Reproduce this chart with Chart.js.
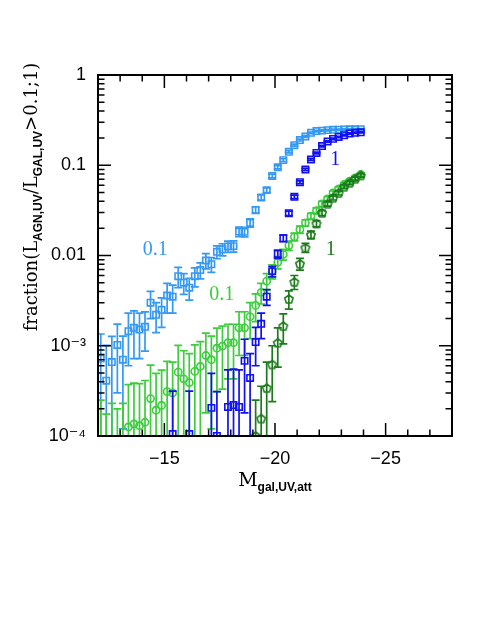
<!DOCTYPE html>
<html>
<head>
<meta charset="utf-8">
<script src="https://cdn.jsdelivr.net/npm/chart.js@4.4.0/dist/chart.umd.min.js"></script>
<style>
  html, body { margin: 0; padding: 0; background: #fff; }
  canvas { display: block; }
</style>
</head>
<body>
<canvas id="fracChart" width="485" height="627"></canvas>
<script>
// magnitude bin centres (0.25 mag bins)
const mags = [
  -12.125, -12.375, -12.625, -12.875,
  -13.125, -13.375, -13.625, -13.875,
  -14.125, -14.375, -14.625, -14.875,
  -15.125, -15.375, -15.625, -15.875,
  -16.125, -16.375, -16.625, -16.875,
  -17.125, -17.375, -17.625, -17.875,
  -18.125, -18.375, -18.625, -18.875,
  -19.125, -19.375, -19.625, -19.875,
  -20.125, -20.375, -20.625, -20.875,
  -21.125, -21.375, -21.625, -21.875,
  -22.125, -22.375, -22.625, -22.875,
  -23.125, -23.375, -23.625, -23.875
];

// fraction with L_AGN/L_GAL > 0.1 (light blue) and > 1 (dark blue)
const lightBlueFrac = [
  7.2e-4, 4.1e-4, 6.6e-4, 1.02e-3,
  7.0e-4, 1.45e-3, 1.58e-3, 1.51e-3,
  1.62e-3, 3.0e-3, 2.2e-3, 2.5e-3,
  3.6e-3, 3.5e-3, 5.9e-3, 5.0e-3,
  4.4e-3, 5.9e-3, 6.9e-3, 8.8e-3,
  8.0e-3, 0.011, 0.0117, 0.0126,
  0.0127, 0.0184, 0.0183, 0.023,
  0.032, 0.044, 0.053, 0.076,
  0.095, 0.114, 0.141, 0.167,
  0.19, 0.208, 0.229, 0.239,
  0.242, 0.245, 0.247, 0.248,
  0.249, 0.25, 0.25, 0.251
];
const lightBlueErr = [
  6.3e-4, 6.0e-4, 6.1e-4, 7.2e-4,
  5.8e-4, 8.5e-4, 8.6e-4, 7.9e-4,
  7.5e-4, 1.0e-3, 8.0e-4, 9.0e-4,
  1.3e-3, 1.2e-3, 1.5e-3, 1.3e-3,
  1.2e-3, 1.4e-3, 1.4e-3, 1.7e-3,
  1.5e-3, 1.8e-3, 1.8e-3, 1.8e-3,
  1.8e-3, 2.2e-3, 2.2e-3, 2.4e-3,
  2.7e-3, 3.0e-3, 3.2e-3, 3.6e-3,
  3.8e-3, 4.0e-3, 4.2e-3, 4.4e-3,
  4.4e-3, 4.4e-3, 4.4e-3, 4.3e-3,
  4.2e-3, 4.2e-3, 4.2e-3, 4.2e-3,
  4.2e-3, 4.2e-3, 4.2e-3, 4.2e-3
];
const darkBlueFrac = [
  null, null, null, null,
  null, null, null, null,
  null, null, null, null,
  null, 1.05e-4, null, null,
  1.05e-4, null, null, null,
  2.05e-4, 1.0e-4, null, 2.1e-4,
  2.2e-4, 2.1e-4, 6.8e-4, 4.4e-4,
  1.1e-3, 1.75e-3, 3.5e-3, 6.7e-3,
  0.0104, 0.0155, 0.0294, 0.0447,
  0.0649, 0.0897, 0.116, 0.137,
  0.163, 0.183, 0.196, 0.206,
  0.215, 0.225, 0.229, 0.232
];
const darkBlueErr = [
  null, null, null, null,
  null, null, null, null,
  null, null, null, null,
  null, 2.1e-4, null, null,
  2.1e-4, null, null, null,
  2.9e-4, 2.1e-4, null, 3.3e-4,
  3.3e-4, 3.3e-4, 5.0e-4, 3.8e-4,
  5.0e-4, 5.5e-4, 7.0e-4, 9.0e-4,
  1.1e-3, 1.3e-3, 1.7e-3, 2.0e-3,
  2.3e-3, 2.6e-3, 2.9e-3, 3.1e-3,
  3.3e-3, 3.4e-3, 3.4e-3, 3.4e-3,
  3.4e-3, 3.4e-3, 3.4e-3, 3.4e-3
];

// same thresholds, second galaxy sample (light green 0.1, dark green 1)
const lightGreenFrac = [
  5e-5, 3e-5, 5e-5, 4e-5,
  5e-5, 1.26e-4, 1.36e-4, 1.3e-4,
  1.42e-4, 2.6e-4, 1.93e-4, 2.18e-4,
  3.1e-4, 3.0e-4, 5.1e-4, 4.3e-4,
  3.9e-4, 5.2e-4, 5.9e-4, 7.8e-4,
  7.0e-4, 9.4e-4, 9.9e-4, 1.08e-3,
  1.08e-3, 1.58e-3, 1.58e-3, 2.1e-3,
  2.8e-3, 3.9e-3, 5.2e-3, 6.7e-3,
  8.4e-3, 0.0103, 0.0129, 0.0161,
  0.0194, 0.023, 0.0273, 0.0315,
  0.0374, 0.0425, 0.0494, 0.0548,
  0.0612, 0.0666, 0.0725, 0.079
];
const lightGreenErr = [
  2.0e-4, 1.45e-4, 1.8e-4, 1.6e-4,
  1.8e-4, 2.45e-4, 2.5e-4, 2.5e-4,
  2.7e-4, 3.5e-4, 3.0e-4, 3.2e-4,
  3.6e-4, 3.6e-4, 5.0e-4, 4.5e-4,
  4.3e-4, 5.0e-4, 5.2e-4, 6.0e-4,
  5.8e-4, 6.3e-4, 6.6e-4, 6.5e-4,
  6.5e-4, 8.0e-4, 8.0e-4, 9.0e-4,
  9.5e-4, 1.0e-3, 1.1e-3, 1.2e-3,
  1.3e-3, 1.4e-3, 1.5e-3, 1.6e-3,
  1.8e-3, 1.9e-3, 2.0e-3, 2.2e-3,
  2.4e-3, 2.5e-3, 2.7e-3, 2.8e-3,
  3.0e-3, 3.1e-3, 3.2e-3, 3.4e-3
];
const darkGreenFrac = [
  null, null, null, null,
  null, null, null, null,
  null, null, null, null,
  null, null, null, null,
  null, null, null, null,
  null, null, null, null,
  null, null, null, null,
  1.0e-4, 1.56e-4, 3.4e-4, 6.2e-4,
  1.08e-3, 1.65e-3, 3.3e-3, 5.1e-3,
  8.1e-3, 0.0122, 0.017, 0.0226,
  0.0297, 0.0374, 0.0436, 0.0494,
  0.0577, 0.0638, 0.0708, 0.077
];
const darkGreenErr = [
  null, null, null, null,
  null, null, null, null,
  null, null, null, null,
  null, null, null, null,
  null, null, null, null,
  null, null, null, null,
  null, null, null, null,
  1.5e-4, 2.0e-4, 3.2e-4, 3.8e-4,
  5.0e-4, 6.0e-4, 7.5e-4, 9.0e-4,
  1.2e-3, 1.4e-3, 1.6e-3, 1.8e-3,
  2.0e-3, 2.2e-3, 2.4e-3, 2.6e-3,
  2.8e-3, 3.0e-3, 3.1e-3, 3.3e-3
];

// axes
const xTickValues = [-15, -20, -25];
const xTickLabels = ['\u221215', '\u221220', '\u221225'];
const yTickValues = [1e-4, 1e-3, 0.01, 0.1, 1];
const yTickLabels = ['10\u207B\u2074', '10\u207B\u00B3', '0.01', '0.1', '1'];

const colLightBlue = '#3499f5';
const colDarkBlue = '#1010f2';
const colLightGreen = '#3ccc3c';
const colDarkGreen = '#1b7b1b';

function pentagon(color) {
  const c = document.createElement('canvas');
  c.width = 12; c.height = 12;
  const g = c.getContext('2d');
  g.strokeStyle = color;
  g.lineWidth = 1.6;
  g.beginPath();
  for (let k = 0; k < 5; k++) {
    const a = -Math.PI / 2 + k * 2 * Math.PI / 5;
    const px = 6 + 4.4 * Math.cos(a), py = 6.4 + 4.4 * Math.sin(a);
    if (k === 0) g.moveTo(px, py); else g.lineTo(px, py);
  }
  g.closePath();
  g.stroke();
  return c;
}

const toPoints = arr => mags.map((m, i) => ({ x: m, y: arr[i] }));

// error bars, drawn just before each dataset's own markers
const errorBars = {
  id: 'errorBars',
  beforeDatasetDraw(chart, args) {
    const ds = chart.data.datasets[args.index];
    if (!ds.errors) return;
    const { ctx, chartArea: a, scales: { x, y } } = chart;
    ctx.save();
    ctx.beginPath();
    ctx.rect(a.left, a.top, a.right - a.left, a.bottom - a.top);
    ctx.clip();
    ctx.strokeStyle = ds.borderColor;
    ctx.lineWidth = 1.7;
    ds.data.forEach((p, i) => {
      const e = ds.errors[i];
      if (p.y == null || e == null) return;
      const px = x.getPixelForValue(p.x);
      const hi = y.getPixelForValue(p.y + e);
      const low = p.y - e;
      const lo = low > 0 ? y.getPixelForValue(low) : a.bottom + 5;
      ctx.beginPath();
      ctx.moveTo(px, lo);
      ctx.lineTo(px, hi);
      ctx.moveTo(px - 4, hi);
      ctx.lineTo(px + 4, hi);
      if (low > 0) {
        ctx.moveTo(px - 4, lo);
        ctx.lineTo(px + 4, lo);
      }
      ctx.stroke();
    });
    ctx.restore();
  }
};

// box with inward ticks on all four sides
const frame = {
  id: 'frame',
  afterDatasetsDraw(chart) {
    const { ctx, chartArea: a, scales: { x, y } } = chart;
    ctx.save();
    ctx.strokeStyle = '#000';
    ctx.lineWidth = 1.5;
    ctx.beginPath();
    for (let m = -13; m >= -27; m--) {
      const px = x.getPixelForValue(m);
      const len = m % 5 === 0 ? 13 : 6.5;
      ctx.moveTo(px, a.bottom); ctx.lineTo(px, a.bottom - len);
      ctx.moveTo(px, a.top); ctx.lineTo(px, a.top + len);
    }
    yTickValues.forEach((d, j) => {
      const py = y.getPixelForValue(d);
      ctx.moveTo(a.left, py); ctx.lineTo(a.left + 13, py);
      ctx.moveTo(a.right, py); ctx.lineTo(a.right - 13, py);
      if (j === yTickValues.length - 1) return;
      for (let k = 2; k <= 9; k++) {
        const pm = y.getPixelForValue(k * d);
        ctx.moveTo(a.left, pm); ctx.lineTo(a.left + 6.5, pm);
        ctx.moveTo(a.right, pm); ctx.lineTo(a.right - 6.5, pm);
      }
    });
    ctx.stroke();
    ctx.lineWidth = 2;
    ctx.strokeRect(a.left, a.top, a.right - a.left, a.bottom - a.top);
    ctx.restore();
  }
};

function drawParts(ctx, parts, cx, baseY) {
  let total = 0;
  parts.forEach(p => { ctx.font = p.font; p.w = ctx.measureText(p.t).width; total += p.w; });
  let xx = cx - total / 2;
  parts.forEach(p => {
    ctx.font = p.font;
    ctx.fillText(p.t, xx, baseY + p.dy);
    xx += p.w;
  });
}

// axis titles and curve labels
const labels = {
  id: 'labels',
  afterDraw(chart) {
    const { ctx, scales: { x, y } } = chart;
    const subFont = 'bold 12px "Liberation Sans"';
    ctx.save();
    ctx.fillStyle = '#000';
    ctx.textAlign = 'left';
    ctx.textBaseline = 'alphabetic';

    drawParts(ctx, [
      { t: 'M', font: '19px "DejaVu Serif"', dy: 0 },
      { t: 'gal,UV,att', font: subFont, dy: 5 }
    ], (chart.chartArea.left + chart.chartArea.right) / 2, 486);

    ctx.save();
    ctx.translate(30, 197);
    ctx.rotate(-Math.PI / 2);
    const mainFont = '18px "DejaVu Serif"';
    drawParts(ctx, [
      { t: 'fraction(L', font: mainFont, dy: 0 },
      { t: 'AGN,UV', font: subFont, dy: 5 },
      { t: '/L', font: mainFont, dy: 0 },
      { t: 'GAL,UV', font: subFont, dy: 5 },
      { t: '>0.1;1)', font: mainFont, dy: 0 }
    ], 0, 7);
    ctx.restore();

    ctx.font = '20px "Liberation Serif"';
    ctx.textAlign = 'center';
    ctx.textBaseline = 'middle';
    [
      { t: '0.1', m: -14.59, f: 0.0115, c: colLightBlue },
      { t: '1', m: -22.72, f: 0.116, c: colDarkBlue },
      { t: '0.1', m: -17.59, f: 3.7e-3, c: colLightGreen },
      { t: '1', m: -22.52, f: 0.0115, c: colDarkGreen }
    ].forEach(l => {
      ctx.fillStyle = l.c;
      ctx.fillText(l.t, x.getPixelForValue(l.m), y.getPixelForValue(l.f));
    });
    ctx.restore();
  }
};

new Chart(document.getElementById('fracChart'), {
  type: 'scatter',
  data: {
    datasets: [
      {
        label: 'L_AGN/L_GAL > 1 (green)',
        data: toPoints(darkGreenFrac),
        errors: darkGreenErr,
        borderColor: colDarkGreen,
        pointStyle: pentagon(colDarkGreen)
      },
      {
        label: 'L_AGN/L_GAL > 1 (blue)',
        data: toPoints(darkBlueFrac),
        errors: darkBlueErr,
        borderColor: colDarkBlue,
        pointStyle: 'rect',
        pointRadius: 4.5,
        pointBorderWidth: 1.6
      },
      {
        label: 'L_AGN/L_GAL > 0.1 (green)',
        data: toPoints(lightGreenFrac),
        errors: lightGreenErr,
        borderColor: colLightGreen,
        pointStyle: 'circle',
        pointRadius: 3.6,
        pointBorderWidth: 1.6
      },
      {
        label: 'L_AGN/L_GAL > 0.1 (blue)',
        data: toPoints(lightBlueFrac),
        errors: lightBlueErr,
        borderColor: colLightBlue,
        pointStyle: 'rect',
        pointRadius: 4.5,
        pointBorderWidth: 1.6
      }
    ]
  },
  options: {
    responsive: false,
    animation: false,
    devicePixelRatio: 1,
    layout: { padding: { top: 75, right: 33, left: 0, bottom: 0 } },
    elements: { point: { backgroundColor: 'rgba(0,0,0,0)', hoverRadius: 4 } },
    plugins: { legend: { display: false }, tooltip: { enabled: false } },
    scales: {
      x: {
        type: 'linear',
        min: -28,
        max: -12,
        reverse: true,
        grid: { display: false, drawTicks: false },
        border: { display: false },
        ticks: {
          color: '#000',
          padding: 12,
          font: { family: '"Liberation Sans", "DejaVu Sans"', size: 18 },
          callback: (v, i) => xTickLabels[i]
        },
        afterBuildTicks: s => { s.ticks = xTickValues.map(v => ({ value: v })); },
        afterFit: s => { s.height = 191; }
      },
      y: {
        type: 'logarithmic',
        min: 1e-4,
        max: 1,
        grid: { display: false, drawTicks: false },
        border: { display: false },
        ticks: {
          color: '#000',
          padding: 12,
          font: { family: '"Liberation Sans", "DejaVu Sans"', size: 18 },
          callback: (v, i) => yTickLabels[i]
        },
        afterBuildTicks: s => { s.ticks = yTickValues.map(v => ({ value: v })); },
        afterFit: s => { s.width = 98; }
      }
    }
  },
  plugins: [errorBars, frame, labels]
});
</script>
</body>
</html>
